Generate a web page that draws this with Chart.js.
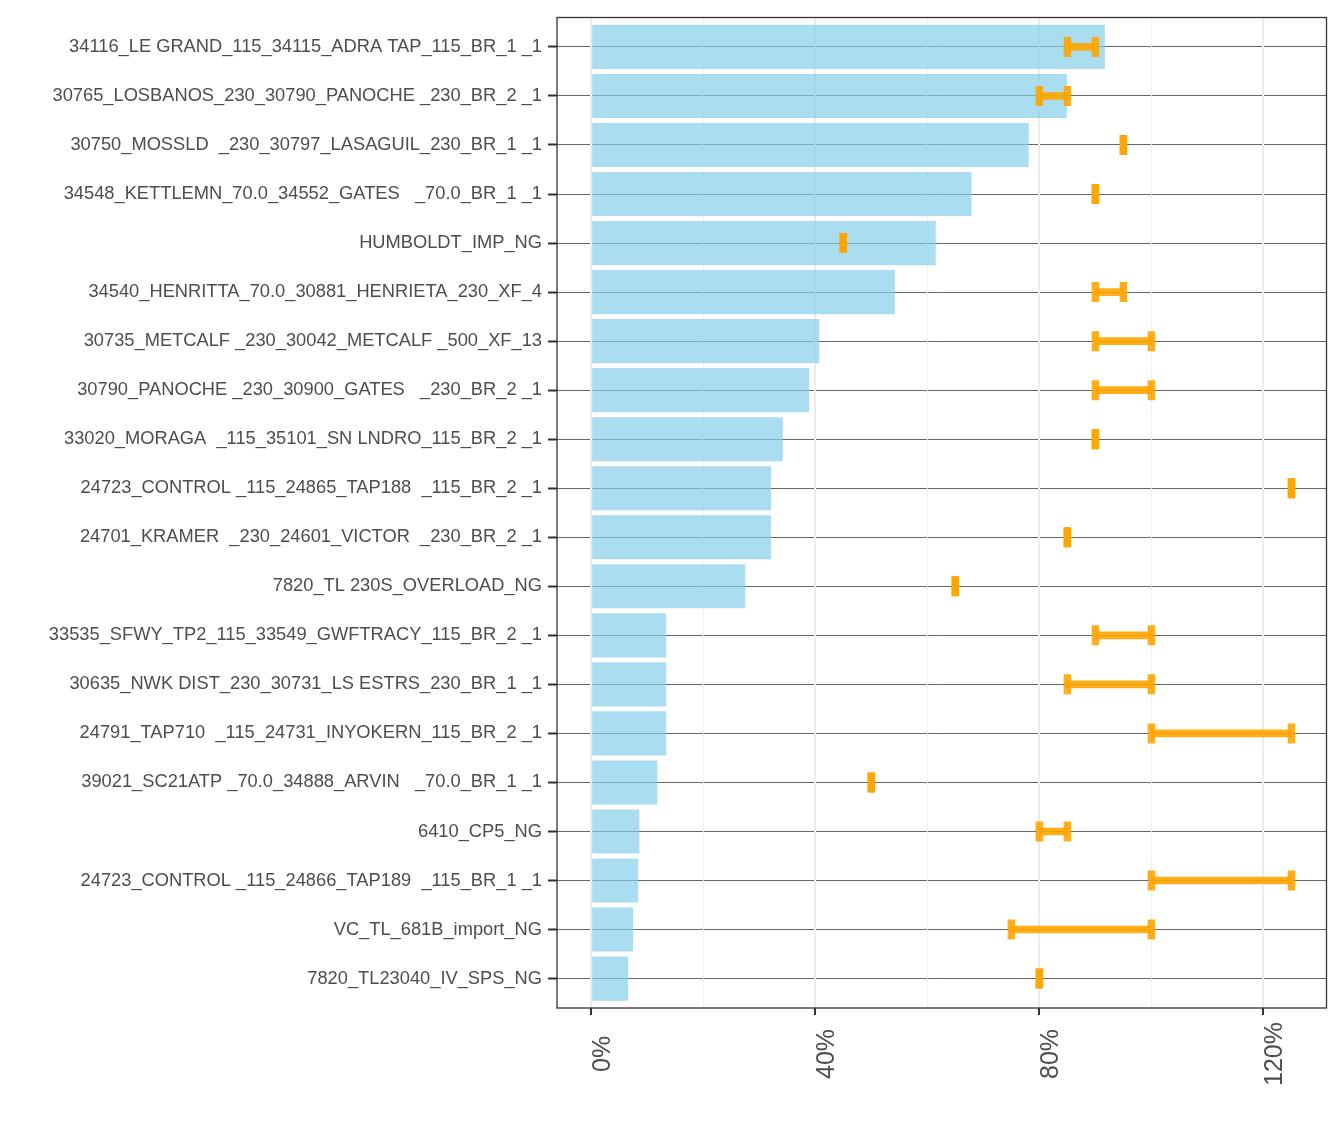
<!DOCTYPE html>
<html>
<head>
<meta charset="utf-8">
<script src="https://cdn.jsdelivr.net/npm/chart.js@4"></script>
<style>
  html, body { margin: 0; padding: 0; background: #fff; }
  #wrap { width: 1344px; height: 1142px; position: relative; }
</style>
</head>
<body>
<div id="wrap"><canvas id="mycanvas"></canvas></div>
<script>
// constraints, top to bottom
var labels = [
  "34116_LE GRAND_115_34115_ADRA TAP_115_BR_1 _1",
  "30765_LOSBANOS_230_30790_PANOCHE _230_BR_2 _1",
  "30750_MOSSLD  _230_30797_LASAGUIL_230_BR_1 _1",
  "34548_KETTLEMN_70.0_34552_GATES   _70.0_BR_1 _1",
  "HUMBOLDT_IMP_NG",
  "34540_HENRITTA_70.0_30881_HENRIETA_230_XF_4",
  "30735_METCALF _230_30042_METCALF _500_XF_13",
  "30790_PANOCHE _230_30900_GATES   _230_BR_2 _1",
  "33020_MORAGA  _115_35101_SN LNDRO_115_BR_2 _1",
  "24723_CONTROL _115_24865_TAP188  _115_BR_2 _1",
  "24701_KRAMER  _230_24601_VICTOR  _230_BR_2 _1",
  "7820_TL 230S_OVERLOAD_NG",
  "33535_SFWY_TP2_115_33549_GWFTRACY_115_BR_2 _1",
  "30635_NWK DIST_230_30731_LS ESTRS_230_BR_1 _1",
  "24791_TAP710  _115_24731_INYOKERN_115_BR_2 _1",
  "39021_SC21ATP _70.0_34888_ARVIN   _70.0_BR_1 _1",
  "6410_CP5_NG",
  "24723_CONTROL _115_24866_TAP189  _115_BR_1 _1",
  "VC_TL_681B_import_NG",
  "7820_TL23040_IV_SPS_NG"
];
// bar values (%)
var share = [91.7, 84.9, 78.1, 67.9, 61.5, 54.2, 40.7, 38.9, 34.2, 32.1,
             32.1, 27.5, 13.4, 13.4, 13.4, 11.8, 8.6, 8.4, 7.5, 6.6];
// orange range low / high (%)
var rangeLow  = [85, 80, 95, 90, 45, 90, 90, 90, 90, 125, 85, 65, 90, 85, 100, 50, 80, 100, 75, 80];
var rangeHigh = [90, 85, 95, 90, 45, 95, 100, 100, 90, 125, 85, 65, 100, 100, 125, 50, 85, 125, 100, 80];
var xTicks = [0, 20, 40, 60, 80, 100, 120];
// trailing spaces keep the rotated labels centred like the original
var xTickText = {0: "0%  ", 40: "40% ", 80: "80% ", 120: "120%"};

var fontFam = '"Liberation Sans", Arial, Helvetica, sans-serif';

var barData = [], rangeData = [], capData = [];
for (var i = 0; i < labels.length; i++) {
  barData.push({x: share[i], y: i});
  rangeData.push({x: [rangeLow[i], rangeHigh[i]], y: i});
  capData.push({x: rangeLow[i], y: i});
  capData.push({x: rangeHigh[i], y: i});
}

var panelBorder = {
  id: 'panelBorder',
  afterDatasetsDraw: function(chart) {
    var a = chart.chartArea, ctx = chart.ctx;
    ctx.save();
    ctx.strokeStyle = '#333333';
    ctx.lineWidth = 1.3;
    ctx.strokeRect(a.left, a.top, a.right - a.left, a.bottom - a.top);
    ctx.restore();
  }
};

var ctx = document.getElementById('mycanvas');
new Chart(ctx, {
  type: 'bar',
  data: {
    datasets: [
      {
        type: 'bar',
        data: barData,
        backgroundColor: 'rgba(135, 206, 235, 0.7)',
        borderWidth: 0,
        barPercentage: 0.9,
        categoryPercentage: 1,
        grouped: false,
        order: 3
      },
      {
        type: 'bar',
        data: rangeData,
        backgroundColor: 'rgba(255, 165, 0, 0.9)',
        borderWidth: 0,
        barThickness: 7,
        grouped: false,
        order: 2
      },
      {
        type: 'scatter',
        data: capData,
        showLine: false,
        pointStyle: 'line',
        rotation: 90,
        radius: 10,
        borderWidth: 7.5,
        borderColor: 'rgba(255, 165, 0, 0.9)',
        backgroundColor: 'rgba(255, 165, 0, 0.9)',
        order: 1
      }
    ]
  },
  options: {
    indexAxis: 'y',
    responsive: true,
    maintainAspectRatio: false,
    animation: false,
    layout: { padding: { top: 15, right: 15, left: 0, bottom: 0 } },
    plugins: { legend: { display: false }, tooltip: { enabled: false } },
    scales: {
      y: {
        type: 'linear',
        min: -0.6,
        max: 19.6,
        reverse: true,
        offset: false,
        afterBuildTicks: function(scale) {
          scale.ticks = labels.map(function(l, i) { return {value: i}; });
        },
        afterFit: function(scale) { scale.width = 557; },
        ticks: {
          autoSkip: false,
          padding: 6,
          color: '#4d4d4d',
          font: { family: fontFam, size: 18.3 },
          callback: function(v) { return labels[v]; }
        },
        grid: {
          offset: false,
          color: '#666666',
          lineWidth: 1,
          tickColor: '#333333',
          tickWidth: 2,
          tickLength: 9
        },
        border: { display: false }
      },
      x: {
        type: 'linear',
        min: -6.1,
        max: 131.25,
        offset: false,
        afterBuildTicks: function(scale) {
          scale.ticks = xTicks.map(function(v) { return {value: v}; });
        },
        afterFit: function(scale) { scale.height = 134; },
        ticks: {
          autoSkip: false,
          minRotation: 90,
          maxRotation: 90,
          padding: 7,
          labelOffset: 12,
          color: '#4d4d4d',
          font: { family: fontFam, size: 25 },
          callback: function(v) { return xTickText[v] || ''; }
        },
        grid: {
          offset: false,
          color: function(c) { return c.tick && c.tick.value % 40 === 0 ? '#ebebeb' : '#f0f0f0'; },
          lineWidth: function(c) { return c.tick && c.tick.value % 40 === 0 ? 2 : 1; },
          tickColor: function(c) { return c.tick && c.tick.value % 40 === 0 ? '#333333' : 'rgba(0,0,0,0)'; },
          tickWidth: 2,
          tickLength: 7
        },
        border: { display: false }
      }
    }
  },
  plugins: [panelBorder]
});
</script>
</body>
</html>
